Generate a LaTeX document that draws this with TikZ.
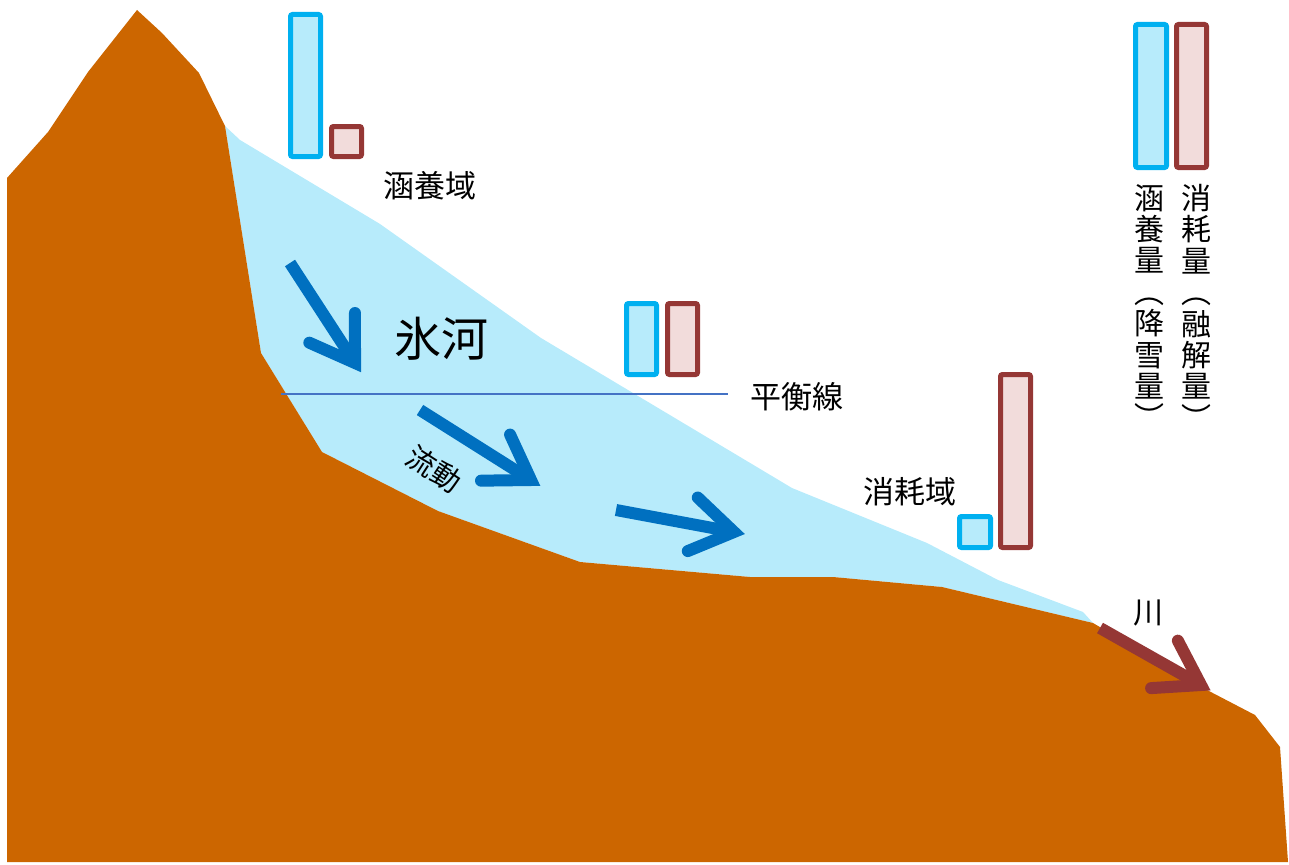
\documentclass[tikz,border=0pt]{standalone}
\usepackage{fontspec}
\newfontfamily\jp{Noto Sans CJK JP}
\usetikzlibrary{calc}

\definecolor{rock}{HTML}{CC6600}
\definecolor{ice}{HTML}{B7EBFB}
\definecolor{flow}{HTML}{0070C0}
\definecolor{river}{HTML}{953735}
\definecolor{gainline}{HTML}{00B0F0}
\definecolor{lossfill}{HTML}{F2DCDB}
\definecolor{ela}{HTML}{4472C4}

\tikzset{
  gainbar/.style={draw=gainline, fill=ice, line width=5, rounded corners=2},
  lossbar/.style={draw=river, fill=lossfill, line width=5, rounded corners=2},
  lbl/.style={font=\jp\fontsize{31}{33}\selectfont, text=black, inner sep=0},
  bigl/.style={font=\jp\fontsize{47}{49}\selectfont, text=black, inner sep=0},
  vcol/.style={font=\jp\fontsize{30}{31.4}\selectfont, text=black, inner sep=0, align=center, anchor=north},
  shaft/.style={line width=12},
  barb/.style={line width=12, line cap=round, line join=miter, miter limit=10},
}

% thick arrow: straight shaft from #1 to the head vertex #2, open chevron head
\newcommand\glacierarrow[3]{%
  \draw[shaft, #3] (#1) -- (#2);
  \draw[barb, #3] ($(#2)!50pt!33:(#1)$) -- (#2) -- ($(#2)!50pt!-33:(#1)$);
}

\begin{document}
\begin{tikzpicture}[x=1pt, y=-1pt]
\useasboundingbox (0,0) rectangle (1289,864);

% glacier body
\fill[ice] (225,126) -- (240,140) -- (380,224) -- (541,338) -- (792,488)
  -- (927,543) -- (998,580) -- (1083,612) -- (1093,623) -- (942,587)
  -- (833,577) -- (750,577) -- (580,562) -- (438,511) -- (322,452)
  -- (261,353) -- cycle;

% mountain
\fill[rock] (7,178) -- (48,132) -- (88,72) -- (137,10) -- (162,33)
  -- (199,73) -- (225,126) -- (261,353) -- (322,452) -- (438,511)
  -- (580,562) -- (750,577) -- (833,577) -- (942,587) -- (1093,623)
  -- (1207,690) -- (1255,715) -- (1280,747) -- (1288,862) -- (7,862) -- cycle;

% equilibrium line
\coordinate (elaL) at (281,394);
\coordinate (elaR) at (728,394);
\draw[ela, line width=1.6] (elaL) -- (elaR);

% accumulation / ablation bars
\draw[gainbar] (290.5,14.5) rectangle (320.5,156.5);
\draw[lossbar] (331.5,126.5) rectangle (361.5,156.5);

\draw[gainbar] (626.5,303.5) rectangle (656.5,374.5);
\draw[lossbar] (667.5,303.5) rectangle (697.5,374.5);

\draw[gainbar] (959.5,516.5) rectangle (990.5,547.5);
\draw[lossbar] (1000.5,374.5) rectangle (1030.5,547.5);

\draw[gainbar] (1135.5,24.5) rectangle (1166.5,167.5);
\draw[lossbar] (1176.5,24.5) rectangle (1206.5,167.5);

% flow arrows
\coordinate (f1s) at (290,263);  \coordinate (f1t) at (355,363);
\coordinate (f2s) at (420,410);  \coordinate (f2t) at (531,480);
\coordinate (f3s) at (616,510);  \coordinate (f3t) at (734,532);
\coordinate (r1s) at (1100,628); \coordinate (r1t) at (1201,685);
\glacierarrow{f1s}{f1t}{flow}
\glacierarrow{f2s}{f2t}{flow}
\glacierarrow{f3s}{f3t}{flow}
\glacierarrow{r1s}{r1t}{river}

% labels
\node[lbl] (acc) at (430,186) {涵養域};
\node[bigl] (glac) at (441,339) {氷河};
\node[lbl] (elat) at (797,397) {平衡線};
\node[lbl, font=\jp\fontsize{29}{31}\selectfont, rotate=-33] (flowt) at (434,469) {流動};
\node[lbl] (abl) at (910,492) {消耗域};
\node[lbl, font=\jp\fontsize{30}{32}\selectfont] (riv) at (1148,613) {川};

\node[vcol] (gaint) at (1149,184) {涵\\養\\量\\︵\\降\\雪\\量\\︶};
\node[vcol] (losst) at (1196,184) {消\\耗\\量\\︵\\融\\解\\量\\︶};
\end{tikzpicture}
\end{document}
